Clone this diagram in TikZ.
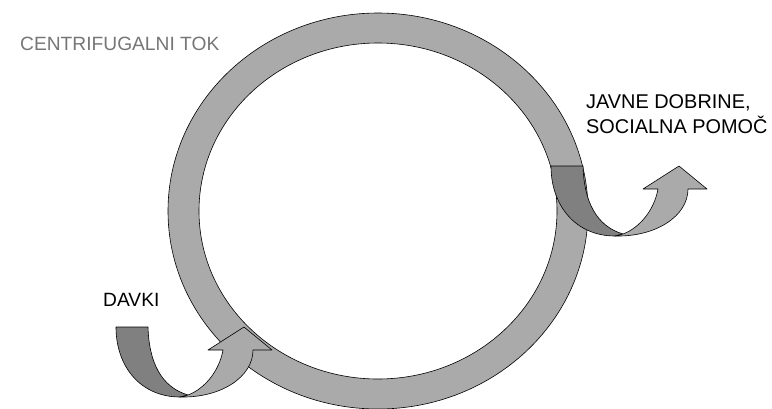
\documentclass[tikz,border=0pt]{standalone}
\usepackage{fontspec}
\setmainfont{Liberation Sans}
\usepackage{xcolor}
\usepackage{tikz}
\usetikzlibrary{positioning}
\definecolor{FlowLight}{RGB}{170, 170, 170}
\definecolor{FlowDark}{RGB}{128, 128, 128}
\definecolor{FlowTitle}{RGB}{118, 118, 118}
\tikzset{
  flowedge/.style={draw=black, line width=0.6pt, line join=round},
  flowlabel/.style={anchor=base west, inner sep=0pt, align=left,
    font=\fontsize{19.2}{25}\selectfont},
  uturn/.pic={
    % back of the ribbon
    \path[flowedge, fill=FlowDark] (0,0) .. controls (0,40) and (25,70) .. (64,70)
      -- (72,68) .. controls (45,60) and (33,35) .. (32,0) -- cycle;
    % front of the ribbon with its head
    \path[flowedge, fill=FlowLight] (64,70) .. controls (105,71) and (137,50) .. (137,23)
      -- (156,23) -- (128,0) -- (92,23) -- (107,23)
      .. controls (103,45) and (88,62) .. (72,68) -- cycle;
  }
}

\begin{document}
\begin{tikzpicture}[x=1pt, y=-1pt]
    \useasboundingbox (0,0) rectangle (772,408);
    \coordinate (ring) at (378,211);
    \path[flowedge, fill=FlowLight, even odd rule]
      (ring) ellipse [x radius=210pt, y radius=198pt]
      (ring) ellipse [x radius=179pt, y radius=168pt];
    \pic (out) at (551,166) {uturn};
    \pic (in) at (116,327) {uturn};
    \node[flowlabel, text=FlowTitle] (title) at (20,50) {CENTRIFUGALNI TOK};
    \node[flowlabel] (davki) at (103,306) {DAVKI};
    \node[flowlabel, font=\fontsize{19.9}{25}\selectfont] (dobrine) at (586,133)
      {JAVNE DOBRINE,\\ SOCIALNA POMOČ};
  \end{tikzpicture}
\end{document}
